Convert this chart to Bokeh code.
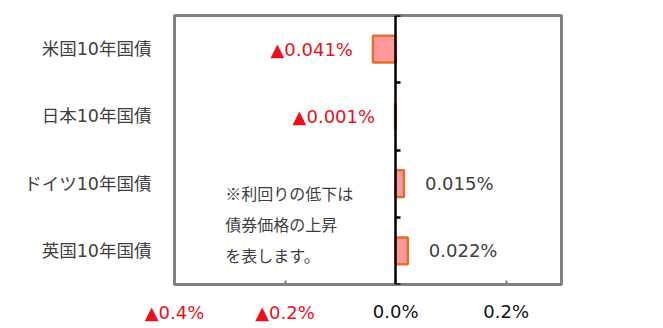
from bokeh.plotting import figure
from bokeh.models import Range1d, FixedTicker, LinearAxis, ColumnDataSource
from bokeh.core.properties import value
from bokeh.embed import file_html
from bokeh.resources import INLINE

# ---- data ----
categories = ["米国10年国債", "日本10年国債", "ドイツ10年国債", "英国10年国債"]
changes = [-0.041, -0.001, 0.015, 0.022]          # yield change, %
x_ticks = [-0.4, -0.2, 0.0, 0.2]
x_tick_labels = ["▲0.4%", "▲0.2%", "0.0%", "0.2%"]
note_lines = ["※利回りの低下は", "債券価格の上昇", "を表します。"]

# ---- styles ----
FONT = "DejaVu Sans, Noto Sans CJK JP"
NEG_COLOR = "#E8101C"
TEXT_COLOR = "#404040"
FRAME_COLOR = "#808080"

n = len(categories)
ypos = [n - 0.5 - i for i in range(n)]  # first category on top


def fmt(v):
    return ("▲" if v < 0 else "") + f"{abs(v):.3f}%"


p = figure(width=663, height=328, x_range=Range1d(-0.4, 0.3), y_range=Range1d(0, n),
           output_backend="svg", toolbar_location=None,
           min_border_left=174, min_border_right=102, min_border_top=15, min_border_bottom=44,
           outline_line_color=FRAME_COLOR, outline_line_width=3,
           background_fill_color="white", border_fill_color="white")
p.xgrid.visible = False
p.ygrid.visible = False

# category axis (left)
yax = p.yaxis[0]
yax.ticker = FixedTicker(ticks=ypos, minor_ticks=[])
yax.major_label_overrides = {y: c for y, c in zip(ypos, categories)}
yax.axis_line_color = None
yax.major_tick_line_color = None
yax.minor_tick_line_color = None
yax.major_label_standoff = 17
yax.major_label_text_font = FONT
yax.major_label_text_font_size = "17.5px"
yax.major_label_text_color = TEXT_COLOR

# x axis: all tick marks, dark labels for non-negative ticks
xb = p.xaxis[0]
xb.ticker = FixedTicker(ticks=x_ticks, minor_ticks=[])
xb.major_label_overrides = {t: (l if t >= 0 else "") for t, l in zip(x_ticks, x_tick_labels)}
xb.axis_line_color = None
xb.major_tick_in = 4
xb.major_tick_out = 0
xb.major_tick_line_color = FRAME_COLOR
xb.major_tick_line_width = 2
xb.minor_tick_line_color = None
xb.major_label_standoff = 16
xb.major_label_text_font = FONT
xb.major_label_text_font_size = "18px"
xb.major_label_text_color = "#111111"

# second x axis: red labels for negative ticks, pulled up onto the same row
neg_ticks = [t for t in x_ticks if t < 0]
xr = LinearAxis(ticker=FixedTicker(ticks=neg_ticks, minor_ticks=[]),
                major_label_overrides={t: l for t, l in zip(x_ticks, x_tick_labels) if t < 0},
                axis_line_color=None, major_tick_line_color=None, minor_tick_line_color=None,
                major_tick_in=0, major_tick_out=0,
                major_label_standoff=-23,
                major_label_text_font=FONT, major_label_text_font_size="18px",
                major_label_text_color=NEG_COLOR)
p.add_layout(xr, "below")

# vertical axis at zero with ticks at category boundaries
bounds = list(range(n + 1))
zax = LinearAxis(ticker=FixedTicker(ticks=bounds, minor_ticks=[]), fixed_location=0,
                 major_label_overrides={b: "" for b in bounds},
                 axis_line_color="black", axis_line_width=2.5,
                 major_tick_in=5, major_tick_out=0,
                 major_tick_line_color="black", major_tick_line_width=2.5,
                 minor_tick_line_color=None, major_label_text_font_size="0px")
p.add_layout(zax, "left")

# bars
src = ColumnDataSource(dict(
    y=ypos, right=changes,
    label=[fmt(v) for v in changes],
    color=[NEG_COLOR if v < 0 else TEXT_COLOR for v in changes],
    align=["right" if v < 0 else "left" for v in changes],
    off=[-20 if v < 0 else 21 for v in changes],
))
p.hbar(y="y", left=0, right="right", height=0.4, source=src,
       fill_color="#FF9999", line_color="#E3702A", line_width=2.5)

p.text(x="right", y="y", text="label", text_color="color", text_align="align",
       x_offset="off", text_baseline="middle", text_font=value(FONT),
       text_font_size="18px", source=src)

# note
note_x = -0.308
note_y = [1.363, 0.904, 0.444]
p.text(x=[note_x] * len(note_lines), y=note_y, text=note_lines,
       text_color=TEXT_COLOR, text_align="left", text_baseline="middle",
       text_font=value("Noto Sans CJK JP"), text_font_size="16px")

open("out.html", "w").write(file_html(p, INLINE))
